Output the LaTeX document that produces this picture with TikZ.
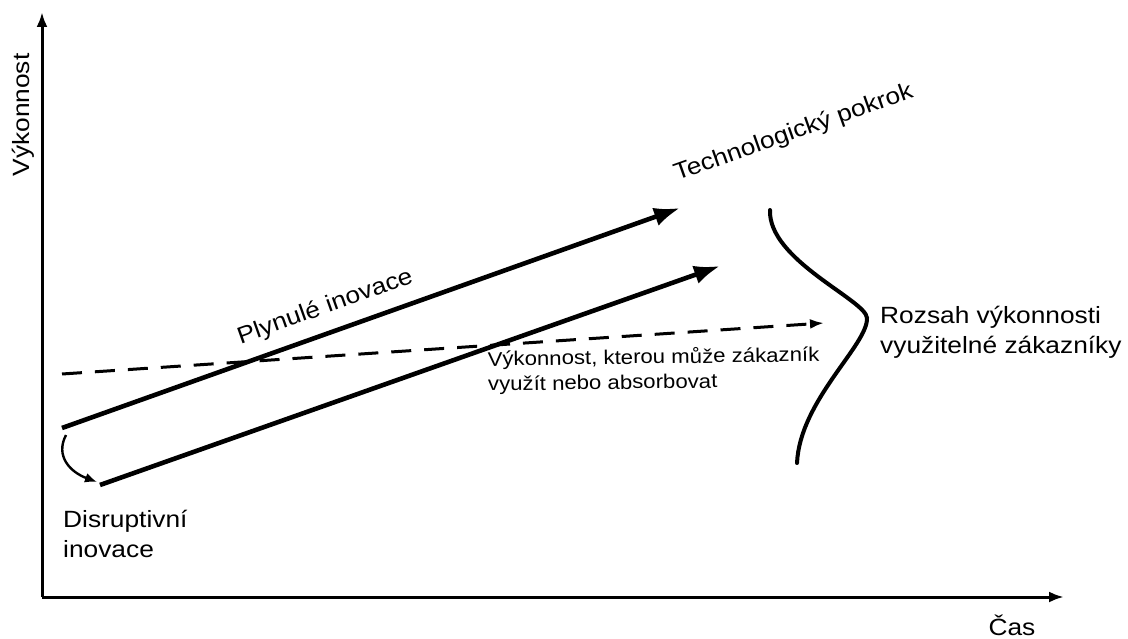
\documentclass[tikz,border=0pt]{standalone}
\usepackage{fontspec}
\setmainfont[FakeStretch=1.12]{Liberation Sans}
\usetikzlibrary{
  arrows.meta,
  positioning,
  calc
}
\tikzset{
  axisline/.style={-{Latex[length=15pt,width=11pt]},line width=3pt},
  trendarrow/.style={-{Latex[length=26pt,width=19pt]},line width=4.6pt},
  needarrow/.style={-{Latex[length=14pt,width=10pt]},line width=3pt,dash pattern=on 20pt off 13pt},
  jumparrow/.style={-{Latex[length=12pt,width=10pt]},line width=2.4pt},
  rangeline/.style={line width=4pt,line cap=round},
  biglabel/.style={font=\fontsize{23.5}{30}\selectfont,align=left,inner sep=0pt},
  smalllabel/.style={font=\fontsize{19.8}{25}\selectfont,align=left,inner sep=0pt}
}

\begin{document}
\begin{tikzpicture}[x=1pt,y=-1pt]
\useasboundingbox (0,0) rectangle (1128,639);
% axes
\coordinate (origin) at (42,597);
\coordinate (ytop) at (42,12);
\coordinate (xend) at (1064,597);
\draw[axisline] (origin) -- (ytop);
\draw[axisline] (origin) -- (xend);
\node[biglabel,rotate=90,anchor=center] (perf) at (23,115) {Výkonnost};
\node[biglabel,anchor=base] (time) at (1012,635) {Čas};
% trajectories
\coordinate (sustA) at (62,428);
\coordinate (sustB) at (680,208);
\coordinate (disA) at (100,485);
\coordinate (disB) at (720,266);
\coordinate (needA) at (62,374);
\coordinate (needB) at (824,323);
\draw[trendarrow] (sustA) -- node[biglabel,sloped,above=12pt,pos=0.44] (sustlabel) {Plynulé inovace} (sustB);
\draw[trendarrow] (disA) -- (disB);
\draw[needarrow] (needA) -- (needB);
\coordinate (jumpA) at (66,435);
\coordinate (jumpB) at (97,482);
\draw[jumparrow] (jumpA) .. controls (55,456) and (70,472) .. (jumpB);
\node[biglabel,anchor=base west,rotate=19.5] (tech) at (677,181) {Technologický pokrok};
% multi-line labels: base is the last line
\node[biglabel,anchor=base west] (disrupt) at (63,557) {Disruptivní\\inovace};
\node[smalllabel,anchor=base west,rotate=0.8] (need) at (488,391) {Výkonnost, kterou může zákazník\\využít nebo absorbovat};
% range bracket
\coordinate (rangeTop) at (770,210);
\coordinate (rangePeak) at (867,318);
\coordinate (rangeBot) at (797,463);
\draw[rangeline] (rangeTop) .. controls (768,260) and (866,300) .. (rangePeak)
  .. controls (868,345) and (800,400) .. (rangeBot);
\node[biglabel,anchor=base west] (range) at (880,353) {Rozsah výkonnosti\\využitelné zákazníky};
\end{tikzpicture}
\end{document}
